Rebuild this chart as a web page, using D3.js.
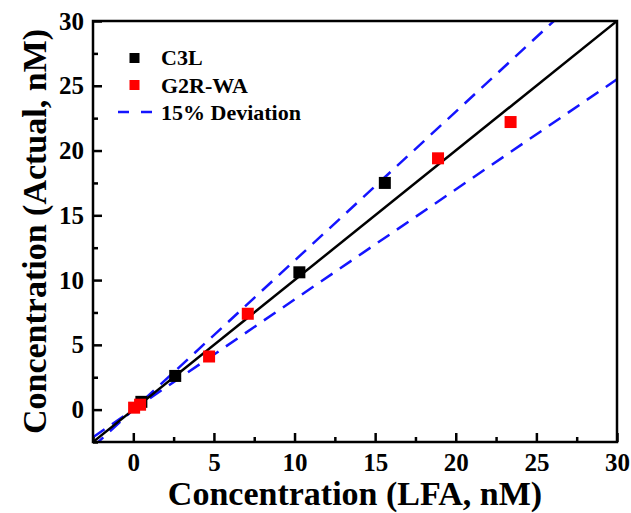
<!DOCTYPE html>
<html>
<head>
<meta charset="utf-8">
<script src="https://cdn.jsdelivr.net/npm/d3@7"></script>
<style>
    body { margin: 0; background: #fff; }
    text { font-family: "Liberation Serif", "Times New Roman", serif; font-weight: bold; }
</style>
</head>
<body>
<div id="chart"></div>
<script>
    // data
    var c3lX = [0.5, 2.6, 10.3, 15.6];
    var c3lY = [0.6, 2.6, 10.6, 17.5];
    var g2rX = [0.05, 0.42, 4.7, 7.1, 18.9, 23.4];
    var g2rY = [0.15, 0.38, 4.1, 7.4, 19.4, 22.2];
    var xTicks = [0, 5, 10, 15, 20, 25, 30];
    var yTicks = [0, 5, 10, 15, 20, 25, 30];
    var minorTicks = [-2.5, 2.5, 7.5, 12.5, 17.5, 22.5, 27.5];
    var deviation = 0.15;
    var legendNames = ["C3L", "G2R-WA", "15% Deviation"];

    function init() {
        var w = 631, h = 513;
        var pLeft = 93, pRight = 617, pTop = 21, pBottom = 442;

        var xScale = d3.scaleLinear().domain([-2.5, 30]).range([pLeft, pRight]);
        var yScale = d3.scaleLinear().domain([-2.5, 30]).range([pBottom, pTop]);

        var svg = d3.select("#chart").append("svg")
            .attr("width", w)
            .attr("height", h);

        svg.append("clipPath").attr("id", "plot")
            .append("rect")
            .attr("x", pLeft).attr("y", pTop)
            .attr("width", pRight - pLeft).attr("height", pBottom - pTop);

        var g = svg.append("g").attr("clip-path", "url(#plot)");

        // reference lines y = x and +/- 15%
        var xs = [-2.5, 30];
        var line = function(k) {
            return d3.line()
                .x(function(d) { return xScale(d); })
                .y(function(d) { return yScale(d * k); })(xs);
        };

        g.append("path").attr("d", line(1 + deviation))
            .attr("fill", "none").attr("stroke", "#1414ff")
            .attr("stroke-width", 2.5).attr("stroke-dasharray", "14 9");
        g.append("path").attr("d", line(1 - deviation))
            .attr("fill", "none").attr("stroke", "#1414ff")
            .attr("stroke-width", 2.5).attr("stroke-dasharray", "14 9");
        g.append("path").attr("d", line(1))
            .attr("fill", "none").attr("stroke", "#000")
            .attr("stroke-width", 2.5);

        var sq = 12;
        g.selectAll(".c3l").data(c3lX).enter().append("rect")
            .attr("class", "c3l")
            .attr("x", function(d) { return xScale(d) - sq / 2; })
            .attr("y", function(d, i) { return yScale(c3lY[i]) - sq / 2; })
            .attr("width", sq).attr("height", sq)
            .attr("fill", "#000");
        g.selectAll(".g2r").data(g2rX).enter().append("rect")
            .attr("class", "g2r")
            .attr("x", function(d) { return xScale(d) - sq / 2; })
            .attr("y", function(d, i) { return yScale(g2rY[i]) - sq / 2; })
            .attr("width", sq).attr("height", sq)
            .attr("fill", "#ff0000");

        // axes, ticks pointing inward
        svg.append("g").attr("transform", "translate(0," + pBottom + ")")
            .call(d3.axisBottom(xScale).tickValues(xTicks).tickSizeInner(-9).tickSizeOuter(0).tickPadding(11));
        svg.append("g").attr("transform", "translate(" + pLeft + ",0)")
            .call(d3.axisLeft(yScale).tickValues(yTicks).tickSizeInner(-9).tickSizeOuter(0).tickPadding(9));

        svg.append("g").attr("transform", "translate(0," + pBottom + ")")
            .call(d3.axisBottom(xScale).tickValues(minorTicks).tickSizeInner(-5).tickSizeOuter(0).tickFormat(""));
        svg.append("g").attr("transform", "translate(" + pLeft + ",0)")
            .call(d3.axisLeft(yScale).tickValues(minorTicks).tickSizeInner(-5).tickSizeOuter(0).tickFormat(""));

        svg.selectAll(".domain").remove();
        svg.selectAll(".tick line").attr("stroke", "#000").attr("stroke-width", 2.5);
        svg.selectAll(".tick text")
            .attr("fill", "#000")
            .style("font-family", "'Liberation Serif', serif")
            .style("font-weight", "bold")
            .style("font-size", "25px");

        // frame
        svg.append("rect")
            .attr("x", pLeft).attr("y", pTop)
            .attr("width", pRight - pLeft).attr("height", pBottom - pTop)
            .attr("fill", "none").attr("stroke", "#000").attr("stroke-width", 2.5);

        // axis titles
        svg.append("text")
            .attr("x", (pLeft + pRight) / 2).attr("y", 505)
            .attr("text-anchor", "middle")
            .style("font-size", "34px")
            .text("Concentration (LFA, nM)");
        svg.append("text")
            .attr("transform", "translate(46," + ((pTop + pBottom) / 2) + ") rotate(-90)")
            .attr("text-anchor", "middle")
            .style("font-size", "34px")
            .text("Concentration (Actual, nM)");

        // legend
        var legend = svg.append("g");
        legend.append("rect").attr("x", 129.5).attr("y", 53).attr("width", 10).attr("height", 10).attr("fill", "#000");
        legend.append("rect").attr("x", 129.5).attr("y", 80).attr("width", 10).attr("height", 10).attr("fill", "#ff0000");
        legend.append("line")
            .attr("x1", 118).attr("x2", 153).attr("y1", 112).attr("y2", 112)
            .attr("stroke", "#1414ff").attr("stroke-width", 2.5).attr("stroke-dasharray", "11 12");
        legend.selectAll(".lab").data(legendNames).enter().append("text")
            .attr("class", "lab")
            .attr("x", 161)
            .attr("y", function(d, i) { return 65 + i * 27.5; })
            .style("font-size", "22px")
            .text(function(d) { return d; });
    }

    init();
</script>
</body>
</html>
